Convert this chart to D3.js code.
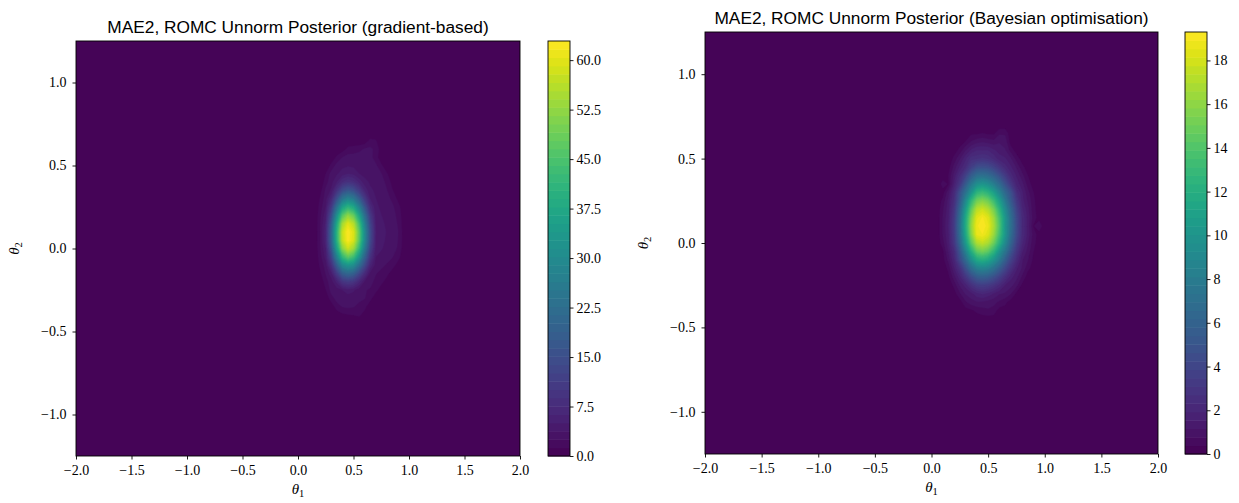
<!DOCTYPE html>
<html><head><meta charset="utf-8">
<script src="https://cdn.jsdelivr.net/npm/d3@7"></script>
<style>body{margin:0;background:#fff}svg{display:block}</style>
</head><body>
<svg id="c" width="1239" height="503"></svg>
<script>
// ---------------- data ----------------
const xTicks = [-2.0, -1.5, -1.0, -0.5, 0.0, 0.5, 1.0, 1.5, 2.0];
const yTicks = [-1.0, -0.5, 0.0, 0.5, 1.0];
const leftTitle = "MAE2, ROMC Unnorm Posterior (gradient-based)";
const rightTitle = "MAE2, ROMC Unnorm Posterior (Bayesian optimisation)";
const leftCbTicks = [0.0, 7.5, 15.0, 22.5, 30.0, 37.5, 45.0, 52.5, 60.0];
const rightCbTicks = [0, 2, 4, 6, 8, 10, 12, 14, 16, 18];

// gradient-based posterior, read on a grid (columns: theta1, rows: theta2 top->bottom)
const leftTheta1 = [0.10,0.15,0.20,0.25,0.30,0.35,0.40,0.45,0.50,0.55,0.60,0.65,0.70,0.75,0.80,0.85,0.90,0.95];
const leftTheta2 = [0.70,0.65,0.60,0.55,0.50,0.45,0.40,0.35,0.30,0.25,0.20,0.15,0.10,0.05,0.00,-0.05,-0.10,-0.15,-0.20,-0.25,-0.30,-0.35,-0.40,-0.45,-0.50];
const leftDensity = [
 [0,0,0,0,0,0,0.1,0.1,0.1,0.1,0,0,0,0,0,0,0,0],
 [0,0,0,0,0,0.1,0.2,0.3,0.2,0.1,0.3,1.6,1.4,0.2,0,0,0,0],
 [0,0,0,0,0.1,0.3,0.6,1.6,1.8,2.2,2.6,2.8,2.2,0.6,0.1,0,0,0],
 [0,0,0,0.1,0.3,1.5,2.5,3.0,3.0,3.0,3.2,3.0,1.8,0.5,0.1,0,0,0],
 [0,0,0,0.2,1.6,3.0,3.4,3.6,3.5,3.2,3.4,3.2,2.8,1.5,0.4,0,0,0],
 [0,0,0.1,1.3,3.0,3.6,4.4,5.0,4.6,3.8,3.4,3.4,3.2,2.6,1.4,0.4,0,0],
 [0,0,0.1,2.0,3.3,5.0,7.6,8.9,8.0,6.0,4.2,3.6,3.4,3.0,2.2,0.8,0,0],
 [0,0,0.8,2.8,4.0,8.8,14.2,16.7,15.0,10.7,6.2,4.0,3.6,3.2,2.6,1.4,0.4,0],
 [0,0,1.4,3.2,6.6,15.0,24.1,28.0,25.3,18.4,10.6,5.0,3.8,3.4,3.0,2.2,1.0,0.1],
 [0,0.1,1.8,3.8,10.2,22.9,35.4,40.6,37.1,27.8,16.4,7.4,4.0,3.6,3.2,2.8,1.8,0.5],
 [0,0.1,2.2,4.6,14.1,30.7,46.0,52.1,48.0,36.7,22.4,10.4,4.4,3.8,3.4,3.0,2.2,0.6],
 [0,0.1,2.4,5.4,17.5,36.8,53.9,59.8,55.8,43.7,27.2,12.9,4.8,4.0,3.6,3.2,2.4,0.7],
 [0,0.1,2.5,6.0,19.3,39.9,57.5,62.9,59.4,47.2,29.8,14.3,5.1,4.2,3.7,3.3,2.6,0.8],
 [0,0.1,2.5,5.9,19.0,39.5,57.0,62.5,58.9,46.7,29.4,14.0,5.0,4.1,3.6,3.2,2.5,0.8],
 [0,0.1,2.3,5.0,16.4,35.0,51.6,57.7,53.6,41.6,25.8,12.1,4.6,3.9,3.4,3.0,2.4,0.7],
 [0,0.1,2.0,4.3,12.4,27.4,41.7,47.4,43.5,33.0,19.9,9.1,3.8,3.4,3.0,2.6,1.8,0.5],
 [0,0,1.6,3.1,8.1,18.5,29.5,33.0,30.9,22.8,14.0,6.0,3.2,2.8,2.4,1.8,0.8,0.2],
 [0,0,1.0,2.6,4.6,10.9,18.4,20.7,19.1,13.5,7.6,3.4,2.6,2.2,1.6,0.7,0.2,0.1],
 [0,0,0.2,2.0,3.2,5.4,9.4,10.6,9.5,6.6,3.6,2.9,2.2,1.6,0.8,0.1,0,0],
 [0,0,0.1,1.2,3.0,3.2,3.8,4.5,4.0,3.0,2.6,2.4,1.6,0.7,0.1,0,0,0],
 [0,0,0,0.3,2.0,3.0,3.0,3.1,3.0,2.8,2.6,1.6,0.6,0.1,0,0,0,0],
 [0,0,0,0.1,0.4,2.0,2.6,2.8,2.6,2.2,1.6,0.6,0.1,0,0,0,0,0],
 [0,0,0,0,0.1,0.4,1.0,1.2,1.3,1.5,0.8,0.1,0,0,0,0,0,0],
 [0,0,0,0,0,0.1,0.2,0.3,0.2,0.2,0.1,0,0,0,0,0,0,0],
 [0,0,0,0,0,0,0.1,0.1,0.1,0,0,0,0,0,0,0,0,0]
];

// Bayesian-optimisation posterior, read on a grid
const rightTheta1 = [0.00,0.05,0.10,0.15,0.20,0.25,0.30,0.35,0.40,0.45,0.50,0.55,0.60,0.65,0.70,0.75,0.80,0.85,0.90,0.95,1.00];
const rightTheta2 = [0.75,0.70,0.65,0.60,0.55,0.50,0.45,0.40,0.35,0.30,0.25,0.20,0.15,0.10,0.05,0.00,-0.05,-0.10,-0.15,-0.20,-0.25,-0.30,-0.35,-0.40,-0.45,-0.50,-0.55];
const rightDensity = [
 [0,0,0,0,0,0,0,0,0,0,0,0,0,0,0,0,0,0,0,0,0],
 [0,0,0,0,0,0,0.1,0.1,0.1,0.1,0.1,0.1,0.1,0.1,0,0,0,0,0,0,0],
 [0,0,0,0,0,0.1,0.2,0.3,0.3,0.4,0.3,0.3,0.7,0.7,0.1,0.1,0,0,0,0,0],
 [0,0,0,0,0.1,0.2,0.4,0.8,1.0,1.1,1.0,0.9,1.1,1.0,0.2,0.1,0.1,0,0,0,0],
 [0,0,0,0.1,0.2,0.5,1.1,1.6,1.9,1.9,1.9,1.6,1.4,1.2,0.6,0.2,0.1,0.1,0,0,0],
 [0,0,0,0.1,0.5,1.1,1.8,2.5,2.6,2.8,2.6,2.2,1.7,1.6,1.2,0.6,0.2,0.1,0,0,0],
 [0,0,0.1,0.2,0.9,1.6,2.3,3.5,4.4,4.6,4.4,3.7,2.9,2.1,1.6,1.1,0.5,0.2,0.1,0,0],
 [0,0,0.1,0.4,1.3,2.3,3.7,5.5,6.8,7.1,6.7,5.8,4.6,3.3,2.1,1.5,0.9,0.4,0.1,0,0],
 [0,0,0.6,0.35,1.6,3.0,5.3,7.7,9.5,10.0,9.4,8.1,6.6,4.7,3.1,1.8,1.3,0.6,0.2,0.1,0],
 [0,0.1,0.2,1.0,2.2,4.6,7.1,9.8,12.4,13.0,12.3,10.8,8.7,6.4,4.7,2.5,1.6,0.9,0.4,0.1,0],
 [0,0.1,0.5,1.3,2.5,5.2,8.9,12.6,15.1,15.7,15.0,13.2,10.8,7.9,5.3,3.2,1.7,1.1,0.5,0.1,0],
 [0,0.1,0.7,1.4,2.9,6.1,10.3,14.4,17.2,17.8,17.0,15.2,12.4,9.2,6.3,3.8,2.0,1.3,0.5,0.2,0],
 [0,0.1,0.8,1.5,3.2,6.7,11.3,15.6,18.4,19.0,18.3,16.4,13.5,10.1,6.9,4.2,2.3,1.4,0.6,0.2,0.1],
 [0,0.1,0.8,1.6,3.3,6.9,11.6,16.1,18.8,19.3,18.6,16.8,13.9,10.0,7.1,4.3,2.3,1.4,0.35,0.7,0.1],
 [0,0.1,0.8,1.5,3.2,6.7,11.2,15.6,18.6,18.9,18.2,16.3,13.4,10.1,6.8,4.2,2.3,1.4,0.6,0.2,0.1],
 [0,0.1,0.6,1.4,3.0,6.0,10.1,14.2,16.9,17.5,16.8,14.9,12.2,9.1,6.1,3.7,2.0,1.2,0.5,0.2,0],
 [0,0.1,0.3,1.2,2.3,4.9,8.4,11.9,14.5,15.1,14.4,12.6,9.8,7.5,5.0,3.0,1.6,1.0,0.4,0.1,0],
 [0,0,0.2,0.9,1.9,4.1,6.5,9.4,11.5,12.0,11.4,9.9,8.0,5.7,3.8,2.3,1.2,0.8,0.3,0.1,0],
 [0,0,0.1,0.5,1.5,2.6,4.6,6.8,8.3,8.7,8.3,7.2,5.7,4.1,2.7,1.6,1.1,0.5,0.2,0.1,0],
 [0,0,0.1,0.3,1.0,1.8,3.0,4.4,5.5,5.8,5.5,4.7,3.7,2.6,1.7,1.3,0.7,0.2,0.1,0,0],
 [0,0,0,0.1,0.5,1.2,1.7,2.6,3.3,3.5,3.3,2.8,2.2,1.5,1.3,0.9,0.3,0.1,0.1,0,0],
 [0,0,0,0.1,0.2,0.7,1.2,1.4,1.8,2.0,1.8,1.5,1.2,1.1,0.8,0.3,0.1,0.1,0,0,0],
 [0,0,0,0,0.1,0.2,0.7,1.0,1.1,1.1,1.0,0.9,0.7,0.5,0.2,0.1,0.1,0,0,0,0],
 [0,0,0,0,0,0.1,0.2,0.3,0.5,0.6,0.7,0.6,0.2,0.2,0.1,0,0,0,0,0,0],
 [0,0,0,0,0,0,0.1,0.1,0.1,0.2,0.2,0.2,0.1,0.1,0,0,0,0,0,0,0],
 [0,0,0,0,0,0,0,0,0.1,0.1,0.1,0,0,0,0,0,0,0,0,0,0],
 [0,0,0,0,0,0,0,0,0,0,0,0,0,0,0,0,0,0,0,0,0]
];

// ---------------- drawing ----------------
const svg = d3.select("#c");
const SERIF = "'Liberation Serif','DejaVu Serif',serif";
const SANS = "'Liberation Sans','DejaVu Sans',sans-serif";
const N_LEVELS = 50;

function drawPanel(cfg, id) {
  const g = svg.append("g");
  const x = d3.scaleLinear().domain([-2, 2]).range([cfg.x0, cfg.x1]);
  const y = d3.scaleLinear().domain([-1.25, 1.25]).range([cfg.y1, cfg.y0]);
  const nx = cfg.t1.length, ny = cfg.t2.length;
  const values = cfg.z.flat();
  const zmax = d3.max(values);
  const levels = d3.range(N_LEVELS + 1).map(i => zmax * i / N_LEVELS);
  const bandColor = i => d3.interpolateViridis(((levels[i] + levels[i + 1]) / 2) / zmax);

  svg.append("clipPath").attr("id", "clip" + id)
    .append("rect").attr("x", cfg.x0).attr("y", cfg.y0)
    .attr("width", cfg.x1 - cfg.x0).attr("height", cfg.y1 - cfg.y0);

  const plot = g.append("g").attr("clip-path", `url(#clip${id})`);
  plot.append("rect").attr("x", cfg.x0).attr("y", cfg.y0)
    .attr("width", cfg.x1 - cfg.x0).attr("height", cfg.y1 - cfg.y0)
    .attr("fill", bandColor(0));

  const dx = cfg.t1[1] - cfg.t1[0];
  const dy = cfg.t2[0] - cfg.t2[1];
  const proj = d3.geoTransform({
    point(px, py) {
      this.stream.point(x(cfg.t1[0] + (px - 0.5) * dx), y(cfg.t2[0] - (py - 0.5) * dy));
    }
  });
  const path = d3.geoPath(proj);
  const contours = d3.contours().size([nx, ny]).thresholds(levels.slice(1, N_LEVELS))(values);
  plot.selectAll("path.band").data(contours).join("path")
    .attr("class", "band")
    .attr("d", path)
    .attr("fill", (d, i) => bandColor(i + 1))
    .attr("stroke", (d, i) => bandColor(i + 1))
    .attr("stroke-width", 0.4);

  // frame
  g.append("rect").attr("x", cfg.x0).attr("y", cfg.y0)
    .attr("width", cfg.x1 - cfg.x0).attr("height", cfg.y1 - cfg.y0)
    .attr("fill", "none").attr("stroke", "#000").attr("stroke-width", 0.9);

  const fmt = d3.format(".1f");
  const xa = g.append("g").attr("transform", `translate(0,${cfg.y1})`)
    .call(d3.axisBottom(x).tickValues(xTicks).tickFormat(fmt).tickSize(3.5).tickPadding(5.5).tickSizeOuter(0));
  const ya = g.append("g").attr("transform", `translate(${cfg.x0},0)`)
    .call(d3.axisLeft(y).tickValues(yTicks).tickFormat(fmt).tickSize(3.5).tickPadding(6).tickSizeOuter(0));
  [xa, ya].forEach(a => {
    a.select(".domain").remove();
    a.selectAll("line").attr("stroke", "#000").attr("stroke-width", 0.9);
    a.selectAll("text").attr("font-family", SERIF).attr("font-size", 14).attr("fill", "#000");
  });

  // title
  g.append("text").attr("x", (cfg.x0 + cfg.x1) / 2).attr("y", cfg.y0 - 8)
    .attr("text-anchor", "middle").attr("font-family", SANS).attr("font-size", 17.3)
    .attr("fill", "#000").text(cfg.title);

  // axis labels
  const xl = g.append("text").attr("x", (cfg.x0 + cfg.x1) / 2).attr("y", cfg.y1 + 38)
    .attr("text-anchor", "middle").attr("font-family", SERIF).attr("font-size", 15).attr("fill", "#000");
  xl.append("tspan").attr("font-style", "italic").text("θ");
  xl.append("tspan").attr("font-size", 10.5).attr("dy", 3).text("1");

  const ylx = cfg.x0 - 57, yly = (cfg.y0 + cfg.y1) / 2;
  const yl = g.append("text").attr("transform", `translate(${ylx},${yly}) rotate(-90)`)
    .attr("text-anchor", "middle").attr("font-family", SERIF).attr("font-size", 15).attr("fill", "#000");
  yl.append("tspan").attr("font-style", "italic").text("θ");
  yl.append("tspan").attr("font-size", 10.5).attr("dy", 3).text("2");

  // colorbar
  const cb = d3.scaleLinear().domain([0, zmax]).range([cfg.y1, cfg.y0]);
  const cbg = g.append("g");
  cbg.selectAll("rect.cb").data(d3.range(N_LEVELS)).join("rect")
    .attr("class", "cb")
    .attr("x", cfg.cbx).attr("width", cfg.cbw)
    .attr("y", i => cb(levels[i + 1]))
    .attr("height", i => cb(levels[i]) - cb(levels[i + 1]) + 0.5)
    .attr("fill", i => bandColor(i));
  cbg.append("rect").attr("x", cfg.cbx).attr("y", cfg.y0).attr("width", cfg.cbw)
    .attr("height", cfg.y1 - cfg.y0).attr("fill", "none").attr("stroke", "#000").attr("stroke-width", 0.9);
  const ca = cbg.append("g").attr("transform", `translate(${cfg.cbx + cfg.cbw},0)`)
    .call(d3.axisRight(cb).tickValues(cfg.cbTicks).tickFormat(cfg.cbFmt).tickSize(3.5).tickPadding(3).tickSizeOuter(0));
  ca.select(".domain").remove();
  ca.selectAll("line").attr("stroke", "#000").attr("stroke-width", 0.9);
  ca.selectAll("text").attr("font-family", SERIF).attr("font-size", 14).attr("fill", "#000");
}

drawPanel({x0: 76, x1: 520, y0: 41, y1: 456, cbx: 548, cbw: 22,
  t1: leftTheta1, t2: leftTheta2, z: leftDensity, title: leftTitle,
  cbTicks: leftCbTicks, cbFmt: d3.format(".1f")}, "L");
drawPanel({x0: 705, x1: 1158, y0: 32, y1: 454, cbx: 1185, cbw: 22,
  t1: rightTheta1, t2: rightTheta2, z: rightDensity, title: rightTitle,
  cbTicks: rightCbTicks, cbFmt: d3.format("d")}, "R");
</script>
</body></html>
